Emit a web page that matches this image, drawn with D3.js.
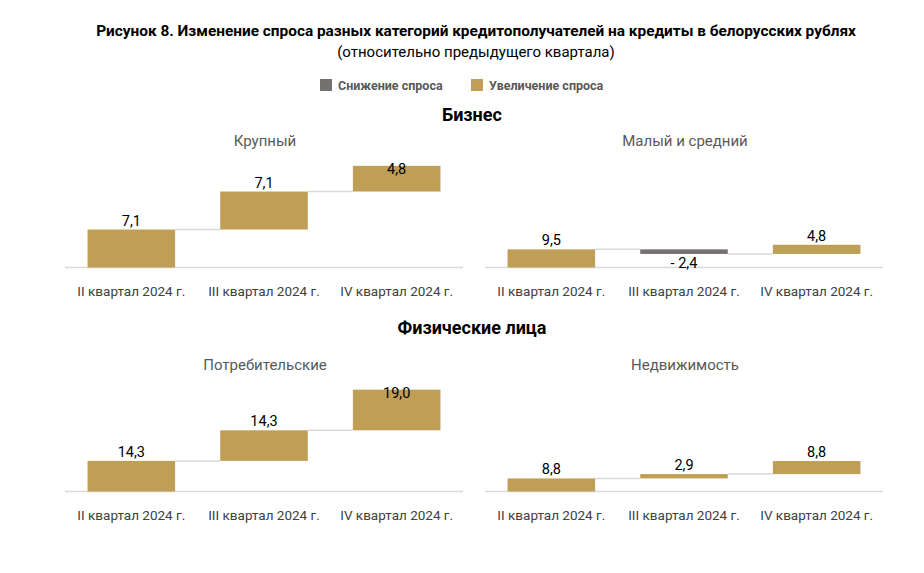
<!DOCTYPE html>
<html>
<head>
<meta charset="utf-8">
<script src="https://cdn.jsdelivr.net/npm/d3@7"></script>
<style>
  body { margin: 0; background: #fff; }
  svg { font-family: Roboto, "Liberation Sans", sans-serif; }
</style>
</head>
<body>
<script>
//chart data
var categories = ["II квартал 2024 г.", "III квартал 2024 г.", "IV квартал 2024 г."];
var sectionNames = ["Бизнес", "Физические лица"];
var panelNames = ["Крупный", "Малый и средний", "Потребительские", "Недвижимость"];
var legendLabels = ["Снижение спроса", "Увеличение спроса"];

var krupny = [7.1, 7.1, 4.8];
var malySredny = [9.5, -2.4, 4.8];
var potrebitelskie = [14.3, 14.3, 19.0];
var nedvizhimost = [8.8, 2.9, 8.8];

var w = 924, h = 573;
var gold = "#BF9F55", grey = "#767171";

var svg = d3.select("body").append("svg")
    .attr("width", w)
    .attr("height", h);

//title
svg.append("text")
    .attr("x", 476).attr("y", 36)
    .attr("text-anchor", "middle")
    .style("font-size", "15.4px").style("font-weight", "bold")
    .text("Рисунок 8. Изменение спроса разных категорий кредитополучателей на кредиты в белорусских рублях");
svg.append("text")
    .attr("x", 476).attr("y", 57)
    .attr("text-anchor", "middle")
    .style("font-size", "15px")
    .text("(относительно предыдущего квартала)");

//legend
var legend = svg.selectAll(".legend")
    .data(legendLabels)
    .enter().append("g")
    .attr("class", "legend")
    .attr("transform", function(d, i){ return "translate(" + (i === 0 ? 320 : 471) + ",79)"; });
legend.append("rect")
    .attr("width", 12).attr("height", 12)
    .style("fill", function(d, i){ return i === 0 ? grey : gold; });
legend.append("text")
    .attr("x", 18).attr("y", 11)
    .style("font-size", "12.5px").style("font-weight", "bold")
    .style("fill", "#595959")
    .text(function(d){ return d; });

//section headings
svg.selectAll(".section")
    .data(sectionNames)
    .enter().append("text")
    .attr("class", "section")
    .attr("x", 472)
    .attr("y", function(d, i){ return i === 0 ? 121 : 334; })
    .attr("text-anchor", "middle")
    .style("font-size", "18px").style("font-weight", "bold")
    .text(function(d){ return d; });

//panel layout
var panels = [
    { name: panelNames[0], values: krupny, x0: 65, baseline: 267.5, yMax: 20 },
    { name: panelNames[1], values: malySredny, x0: 485, baseline: 267.5, yMax: 56 },
    { name: panelNames[2], values: potrebitelskie, x0: 65, baseline: 491.5, yMax: 50 },
    { name: panelNames[3], values: nedvizhimost, x0: 485, baseline: 491.5, yMax: 72 }
];

panels.forEach(function(p){
    var plotH = 107;
    var x = d3.scaleBand()
        .domain(categories)
        .range([p.x0, p.x0 + 398])
        .paddingInner(0.34)
        .paddingOuter(0.17);
    var y = d3.scaleLinear()
        .domain([0, p.yMax])
        .range([p.baseline, p.baseline - plotH]);

    //waterfall steps
    var cum = 0;
    var steps = p.values.map(function(v, i){
        var s = { cat: categories[i], v: v, start: cum, end: cum + v };
        cum += v;
        return s;
    });

    var g = svg.append("g");

    //panel title
    g.append("text")
        .attr("x", p.x0 + 200)
        .attr("y", p.baseline - 122)
        .attr("text-anchor", "middle")
        .style("font-size", "15px")
        .style("fill", "#595959")
        .text(p.name);

    //baseline
    g.append("line")
        .attr("x1", p.x0).attr("x2", p.x0 + 398)
        .attr("y1", y(0)).attr("y2", y(0))
        .style("stroke", "#d9d9d9").style("stroke-width", 1.5);

    //connector lines
    g.selectAll(".conn")
        .data(steps.slice(0, -1))
        .enter().append("line")
        .attr("class", "conn")
        .attr("x1", function(d){ return x(d.cat) + x.bandwidth(); })
        .attr("x2", function(d, i){ return x(categories[i + 1]); })
        .attr("y1", function(d){ return y(d.end); })
        .attr("y2", function(d){ return y(d.end); })
        .style("stroke", "#d9d9d9").style("stroke-width", 1.5);

    //bars
    g.selectAll(".bar")
        .data(steps)
        .enter().append("rect")
        .attr("class", "bar")
        .attr("x", function(d){ return x(d.cat); })
        .attr("width", x.bandwidth())
        .attr("y", function(d){ return y(Math.max(d.start, d.end)); })
        .attr("height", function(d){ return Math.abs(y(d.start) - y(d.end)); })
        .style("fill", function(d){ return d.v < 0 ? grey : gold; });

    //value labels
    g.selectAll(".val")
        .data(steps)
        .enter().append("text")
        .attr("class", "val")
        .attr("x", function(d){ return x(d.cat) + x.bandwidth() / 2; })
        .attr("y", function(d){
            if (d.v < 0) return y(d.end) + 9;
            return Math.max(y(d.end) - 9, p.baseline - plotH + 8);
        })
        .attr("dy", "0.35em")
        .attr("text-anchor", "middle")
        .style("font-size", "14.5px")
        .style("fill", "#000")
        .text(function(d){
            var s = d3.format(".1f")(Math.abs(d.v)).replace(".", ",");
            return d.v < 0 ? "- " + s : s;
        });

    //category labels
    g.selectAll(".cat")
        .data(categories)
        .enter().append("text")
        .attr("class", "cat")
        .attr("x", function(d){ return x(d) + x.bandwidth() / 2; })
        .attr("y", p.baseline + 28)
        .attr("text-anchor", "middle")
        .style("font-size", "13.5px")
        .style("fill", "#404040")
        .text(function(d){ return d; });
});
</script>
</body>
</html>
